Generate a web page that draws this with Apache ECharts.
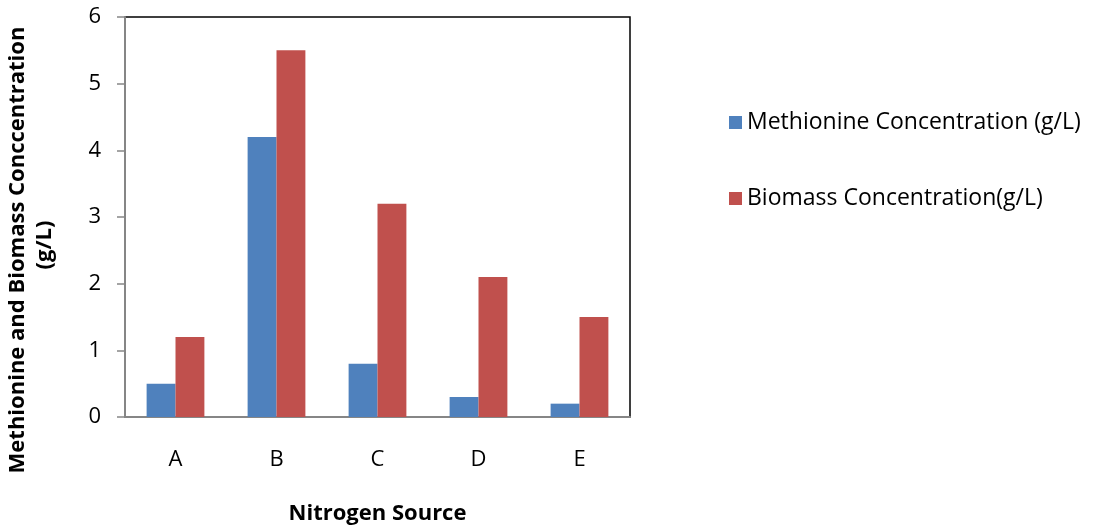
<!DOCTYPE html>
<html>
<head>
<meta charset="utf-8">
<script src="https://cdn.jsdelivr.net/npm/echarts@6/dist/echarts.min.js"></script>
<style>
  html, body { margin: 0; padding: 0; background: #fff; }
  #chart { width: 1093px; height: 529px; }
</style>
</head>
<body>
<div id="chart"></div>
<script>
var categories = ['A', 'B', 'C', 'D', 'E'];
var methionine = [0.5, 4.2, 0.8, 0.3, 0.2];
var biomass = [1.2, 5.5, 3.2, 2.1, 1.5];

var fontFam = '"Open Sans", "Noto Sans", sans-serif';
var myChart = echarts.init(document.getElementById('chart'));

var option = {
    animation: false,
    textStyle: { fontFamily: fontFam },
    grid: {
        left: 125,
        top: 17,
        width: 505,
        height: 400,
        show: true,
        borderColor: '#000',
        borderWidth: 1.5,
        containLabel: false,
        outerBoundsMode: 'none'
    },
    // y axis title sits a bit below the plot middle, so draw it by hand
    graphic: [
        {
            type: 'text',
            x: 18,
            y: 250,
            rotation: Math.PI / 2,
            style: {
                text: 'Methionine and Biomass Conccentration',
                fontSize: 22,
                fontWeight: 'bold',
                fontFamily: fontFam,
                fill: '#000',
                align: 'center',
                verticalAlign: 'middle'
            }
        },
        {
            type: 'text',
            x: 45,
            y: 245,
            rotation: Math.PI / 2,
            style: {
                text: '(g/L)',
                fontSize: 22,
                fontWeight: 'bold',
                fontFamily: fontFam,
                fill: '#000',
                align: 'center',
                verticalAlign: 'middle'
            }
        }
    ],
    legend: {
        orient: 'vertical',
        left: 724,
        top: 106,
        itemGap: 53,
        itemWidth: 13,
        itemHeight: 13,
        icon: 'rect',
        textStyle: { fontSize: 23, color: '#000', fontFamily: fontFam },
        data: ['Methionine Concentration (g/L)', 'Biomass Concentration(g/L)']
    },
    xAxis: {
        type: 'category',
        data: categories,
        name: 'Nitrogen Source',
        nameLocation: 'middle',
        nameGap: 86,
        nameTextStyle: { fontSize: 22, fontWeight: 'bold', color: '#000' },
        axisLine: { lineStyle: { color: '#868686', width: 2 } },
        axisTick: { show: false },
        axisLabel: { fontSize: 22, color: '#000', margin: 32 },
        splitLine: { show: false }
    },
    yAxis: {
        type: 'value',
        min: 0,
        max: 6,
        interval: 1,
        axisLine: { show: true, lineStyle: { color: '#868686', width: 2 } },
        axisTick: { show: true, length: 8, lineStyle: { color: '#868686', width: 1.5 } },
        axisLabel: { fontSize: 22, color: '#000', margin: 24 },
        splitLine: { show: false }
    },
    series: [
        {
            name: 'Methionine Concentration (g/L)',
            type: 'bar',
            data: methionine,
            barWidth: '28.6%',
            barGap: '0%',
            itemStyle: { color: '#4f81bd' }
        },
        {
            name: 'Biomass Concentration(g/L)',
            type: 'bar',
            data: biomass,
            barWidth: '28.6%',
            barGap: '0%',
            itemStyle: { color: '#c0504d' }
        }
    ]
};

myChart.setOption(option);
</script>
</body>
</html>
